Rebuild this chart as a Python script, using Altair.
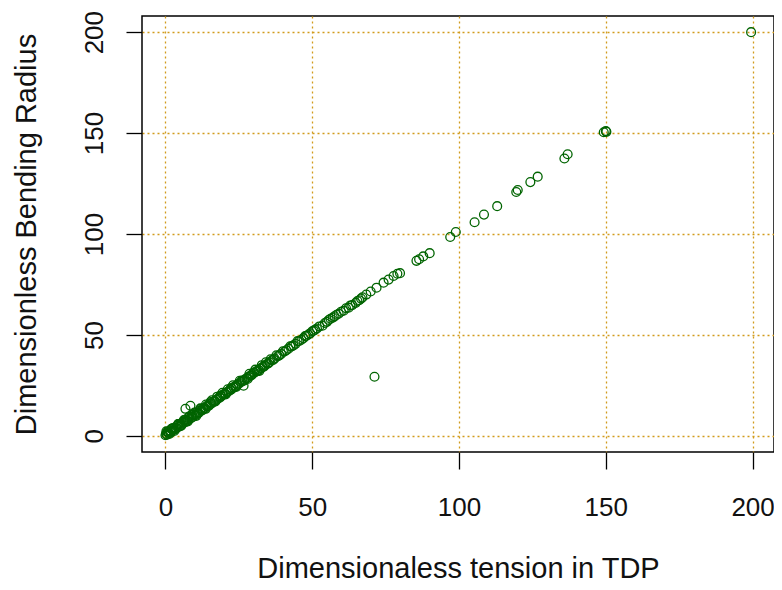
import altair as alt
import pandas as pd

# Dimensionless tension in TDP (x) and dimensionless bending radius (y)
tension = [
    0.2, 0.5, 0.8, 1.1, 1.5, 1.9, 2.3, 2.8, 3.2, 3.7, 4.1, 4.6, 5.0, 5.5, 6.0, 6.4, 6.9, 7.4, 7.8, 8.3,
    8.8, 9.3, 9.7, 10.2, 10.8, 11.3, 11.8, 12.3, 12.9, 13.4, 14.0, 14.5, 15.1, 15.6, 16.2, 16.8, 17.3,
    17.9, 18.5, 19.0, 19.6, 20.2, 20.8, 21.4, 22.0, 22.6, 23.2, 23.8, 24.4, 25.0, 25.7, 26.3, 27.0,
    27.6, 28.3, 28.9, 29.6, 30.3, 31.0, 31.7, 32.4, 33.1, 33.8, 34.6, 35.4, 36.3, 37.2, 38.3, 39.4,
    40.6, 41.9, 43.0, 44.3, 45.6, 47.0, 48.1, 49.3, 50.5, 51.6, 53.5, 55.0, 56.2, 57.6, 59.0, 60.7,
    62.4, 63.6, 64.8, 66.0, 67.1, 68.4, 69.9, 71.9, 74.3, 76.0, 77.7, 79.0, 79.9,
    0.0, 0.3, 1.3, 2.0, 3.0, 4.3, 5.3, 6.6, 7.6, 9.0, 10.5, 12.0, 13.7, 15.3, 17.0, 18.7, 20.5, 22.3,
    24.1, 26.0, 26.6, 28.0, 30.0, 32.0, 6.8, 8.5,
    0.6, 1.7, 2.5, 3.4, 4.4, 5.2, 6.2, 7.1, 8.0, 9.0, 9.9, 10.9, 11.9, 12.8, 13.8, 14.8, 15.8, 16.6,
    17.6, 18.6, 19.4, 20.4, 21.2, 22.2, 23.0, 24.0, 25.3, 26.8, 28.6, 29.2, 30.6, 31.3, 32.8, 33.5,
    34.2, 35.0, 35.8, 36.8, 37.8, 38.8, 40.0, 41.2, 42.5, 43.6, 45.0, 46.3, 47.6, 48.7, 50.0, 51.0,
    52.4, 54.3, 55.6, 57.0, 58.3, 59.8, 61.5, 63.0, 65.4, 66.6,
    85.5, 86.4, 87.8, 90.0, 97.0, 98.9, 105.3, 108.5, 113.0, 119.5, 120.0, 124.3, 126.8, 135.9, 137.0,
    149.3, 150.0, 150.2, 199.5, 71.2,
]
radius = [
    1.0, 0.6, 1.9, 1.4, 2.6, 2.2, 3.3, 2.9, 4.1, 3.8, 5.0, 4.6, 5.9, 5.5, 6.9, 6.5, 7.8, 7.5, 8.8, 8.4,
    9.7, 9.4, 10.6, 10.3, 11.6, 11.4, 12.6, 12.5, 13.6, 13.6, 14.7, 14.8, 15.8, 16.0, 16.9, 17.2, 18.0,
    18.4, 19.2, 19.6, 20.4, 20.8, 21.6, 22.0, 22.8, 23.3, 24.0, 24.6, 25.3, 25.9, 26.6, 27.2, 27.9,
    28.5, 29.2, 29.8, 30.6, 31.3, 32.0, 32.7, 33.4, 34.1, 34.8, 35.6, 36.5, 37.4, 38.3, 39.5, 40.6,
    41.8, 43.2, 44.3, 45.6, 47.0, 48.4, 49.6, 50.8, 52.1, 53.2, 54.6, 56.5, 58.0, 59.2, 60.5, 62.0,
    63.5, 64.8, 65.9, 67.2, 68.6, 70.0, 71.5, 73.4, 75.9, 77.4, 79.2, 80.3, 80.6,
    0.3, 2.2, 0.9, 3.5, 2.4, 5.8, 4.9, 8.0, 7.2, 10.5, 9.9, 13.4, 13.4, 16.7, 17.0, 20.0, 20.5, 23.7,
    24.2, 27.4, 24.8, 28.2, 31.4, 32.2, 13.4, 14.9,
    1.9, 1.6, 3.9, 3.3, 5.8, 5.2, 7.7, 7.1, 9.5, 9.1, 11.5, 11.0, 13.6, 13.0, 15.5, 15.0, 17.6, 16.9,
    19.4, 19.0, 21.3, 20.8, 23.1, 22.7, 25.0, 24.5, 27.3, 27.4, 30.7, 29.9, 32.8, 32.0, 35.0, 34.3,
    36.4, 35.9, 37.9, 37.8, 39.9, 39.9, 41.9, 42.4, 44.4, 44.8, 46.9, 47.6, 49.4, 50.2, 51.8, 52.6,
    54.2, 55.9, 57.4, 58.6, 60.0, 61.5, 63.2, 64.6, 66.8, 68.0,
    86.7, 87.5, 88.9, 90.5, 98.5, 101.0, 105.8, 109.6, 113.8, 120.8, 121.8, 125.7, 128.4, 137.4, 139.5,
    150.4, 151.0, 150.6, 200.0, 29.3,
]
tick_values = [0, 50, 100, 150, 200]

df = pd.DataFrame({"tension": tension, "radius": radius})

FONT = "Liberation Sans"
GRID = "#D19B1C"

x_axis = alt.Axis(
    values=tick_values, grid=True, gridColor=GRID, gridDash=[2, 3], gridWidth=1.3,
    domain=False, ticks=True, tickSize=17, tickColor="black", tickWidth=1.3,
    labelFont=FONT, labelFontSize=26, labelColor="#111", labelBaseline="alphabetic",
    labelPadding=46, labelFlush=False,
    titleFont=FONT, titleFontSize=29, titleFontWeight="normal", titleColor="#111",
    titleBaseline="alphabetic", titleY=125,
)
y_axis = alt.Axis(
    values=tick_values, grid=True, gridColor=GRID, gridDash=[2, 3], gridWidth=1.3,
    domain=False, ticks=True, tickSize=16, tickColor="black", tickWidth=1.3,
    labelFont=FONT, labelFontSize=26, labelColor="#111", labelAngle=270,
    labelAlign="center", labelBaseline="alphabetic", labelPadding=24, labelFlush=False,
    titleFont=FONT, titleFontSize=29, titleFontWeight="normal", titleColor="#111",
    titleAngle=270, titleBaseline="alphabetic", titleX=-107,
)

chart = (
    alt.Chart(df)
    .mark_point(shape="circle", filled=False, color="#006400", size=78, strokeWidth=1.3, opacity=1)
    .encode(
        x=alt.X("tension:Q", title="Dimensionaless tension in TDP",
                scale=alt.Scale(domain=[-8, 207.3], nice=False, zero=False), axis=x_axis),
        y=alt.Y("radius:Q", title="Dimensionless Bending Radius",
                scale=alt.Scale(domain=[-8, 208], nice=False, zero=False), axis=y_axis),
    )
    .properties(
        width=632, height=436,
        autosize=alt.AutoSizeParams(type="none"),
        padding={"left": 134, "top": 8, "right": 0, "bottom": 130},
        background="white",
    )
    .configure_view(stroke="black", strokeWidth=1.5)
)

chart.save("out.html", embed_options={"renderer": "svg", "actions": False})
